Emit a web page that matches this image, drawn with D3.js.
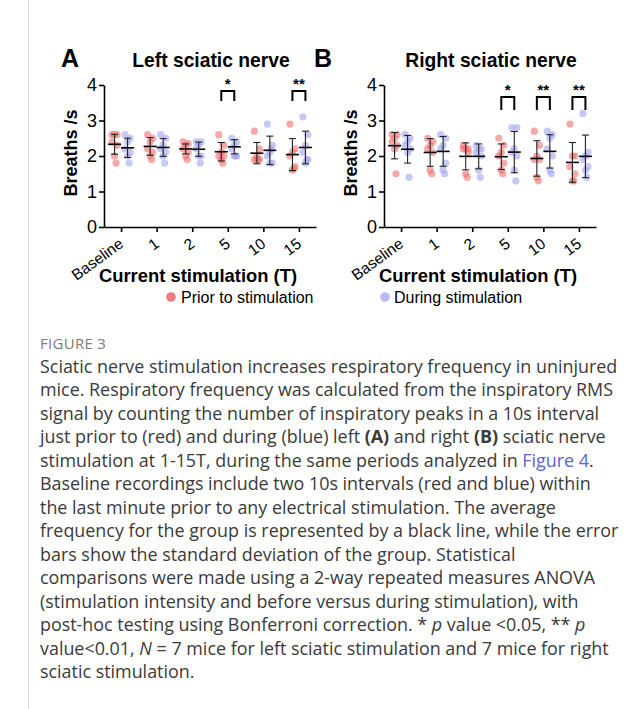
<!DOCTYPE html>
<html><head><meta charset="utf-8">
<script src="https://cdn.jsdelivr.net/npm/d3@7"></script>
<style>
body{margin:0;background:#fff;}
svg{display:block;}
</style></head>
<body>
<svg id="c" width="642" height="709"></svg>
<script>
const categories = ["Baseline","1","2","5","10","15"];
const yTicks = [0,1,2,3,4];

// Panel A: Left sciatic nerve (7 mice)
const leftPrior = [
  [2.6,2.6,2.6,2.4,2.3,2.0,1.8],
  [2.6,2.5,2.4,2.2,2.1,2.0,1.9],
  [2.4,2.35,2.3,2.2,2.1,2.0,1.9],
  [2.6,2.3,2.1,2.0,2.0,1.9,1.8],
  [2.7,2.2,2.0,1.9,1.9,1.9,1.9],
  [2.9,2.2,2.1,2.0,1.7,1.6,1.65]
];
const leftDuring = [
  [2.6,2.5,2.4,2.2,2.1,2.0,1.8],
  [2.6,2.5,2.3,2.2,2.1,2.0,1.8],
  [2.4,2.4,2.3,2.2,2.0,2.0,1.8],
  [2.5,2.4,2.3,2.2,2.0,2.0,2.0],
  [2.9,2.3,2.1,2.0,1.8,1.8,2.2],
  [3.1,2.6,2.3,2.1,1.9,1.8,1.9]
];
const leftPriorMean = [2.33,2.27,2.20,2.12,2.08,2.04];
const leftPriorSD   = [0.28,0.25,0.14,0.26,0.30,0.45];
const leftDuringMean = [2.23,2.24,2.19,2.26,2.16,2.24];
const leftDuringSD   = [0.27,0.25,0.20,0.20,0.40,0.46];
const leftSig = [{cat:"5",label:"*"},{cat:"15",label:"**"}];

// Panel B: Right sciatic nerve (7 mice)
const rightPrior = [
  [2.6,2.6,2.5,2.4,2.3,2.2,1.5],
  [2.5,2.4,2.3,2.2,2.1,1.6,1.5],
  [2.3,2.2,2.2,2.2,2.1,1.5,1.4],
  [2.5,2.3,2.1,2.0,1.8,1.6,1.5],
  [2.7,2.3,2.0,1.9,1.9,1.4,1.3],
  [2.9,2.0,2.0,1.7,1.5,1.3,1.3]
];
const rightDuring = [
  [2.6,2.5,2.4,2.3,2.2,2.1,1.4],
  [2.6,2.5,2.3,2.2,1.8,1.6,1.5],
  [2.3,2.2,2.2,2.1,2.0,1.6,1.4],
  [2.8,2.8,2.2,2.1,2.0,1.6,1.3],
  [2.7,2.6,2.5,2.2,2.0,1.6,1.5],
  [3.2,2.1,2.0,1.9,1.7,1.6,1.4]
];
const rightPriorMean = [2.29,2.10,1.99,1.98,1.93,1.82];
const rightPriorSD   = [0.37,0.39,0.38,0.36,0.50,0.56];
const rightDuringMean = [2.19,2.13,1.99,2.11,2.13,1.99];
const rightDuringSD   = [0.39,0.42,0.35,0.58,0.47,0.60];
const rightSig = [{cat:"5",label:"*"},{cat:"10",label:"**"},{cat:"15",label:"**"}];

const seriesNames = ["Prior to stimulation","During stimulation"];
const seriesColors = ["#f07070","#a3a3f2"];

const captionHead = "FIGURE 3";
const captionLines = [
  [["Sciatic nerve stimulation increases respiratory frequency in uninjured"]],
  [["mice. Respiratory frequency was calculated from the inspiratory RMS"]],
  [["signal by counting the number of inspiratory peaks in a 10s interval"]],
  [["just prior to (red) and during (blue) left "],["(A)","b"],[" and right "],["(B)","b"],[" sciatic nerve"]],
  [["stimulation at 1-15T, during the same periods analyzed in "],["Figure 4","l"],["."]],
  [["Baseline recordings include two 10s intervals (red and blue) within"]],
  [["the last minute prior to any electrical stimulation. The average"]],
  [["frequency for the group is represented by a black line, while the error"]],
  [["bars show the standard deviation of the group. Statistical"]],
  [["comparisons were made using a 2-way repeated measures ANOVA"]],
  [["(stimulation intensity and before versus during stimulation), with"]],
  [["post-hoc testing using Bonferroni correction. * "],["p","i"],[" value <0.05, ** "],["p","i"]],
  [["value<0.01, "],["N","i"],[" = 7 mice for left sciatic stimulation and 7 mice for right"]],
  [["sciatic stimulation."]]
];

const svg = d3.select("#c");
const FONT = "'Liberation Sans', Arial, sans-serif";

svg.append("line").attr("x1",28.5).attr("x2",28.5).attr("y1",0).attr("y2",709)
  .attr("stroke","#d6d6d6").attr("stroke-width",1);

function panel(ox, letter, letterX, title, titleX, prior, during, pM, pS, dM, dS, sig, sigTop, sigH) {
  const g = svg.append("g").attr("transform",`translate(${ox},0)`);
  const x = d3.scalePoint().domain(categories).range([0,212]).padding(0.48);
  const y = d3.scaleLinear().domain([0,4]).range([227,85]);
  const off = [-6.5, 6.5];

  const ya = g.append("g").call(d3.axisLeft(y).tickValues(yTicks).tickFormat(d3.format("d"))
    .tickSize(5).tickSizeOuter(0).tickPadding(2));
  ya.select(".domain").attr("stroke-width",1.6);
  ya.selectAll(".tick line").attr("stroke-width",1.6);
  ya.selectAll("text").attr("font-family",FONT).attr("font-size",18).attr("fill","#000");

  const xa = g.append("g").attr("transform","translate(0,227)")
    .call(d3.axisBottom(x).tickSize(5).tickSizeOuter(0));
  xa.select(".domain").attr("stroke-width",1.6);
  xa.selectAll(".tick line").attr("stroke-width",1.6);
  xa.selectAll("text").attr("font-family",FONT).attr("font-size",15.5).attr("fill","#000")
    .attr("text-anchor","end").attr("dy",0).attr("y",0)
    .attr("transform","translate(3,19) rotate(-36)");

  const groups = [prior, during];
  const jit = [-2.5, 2.5, 0, -2.5, 2.5, 0, 1.5];
  groups.forEach((arr, s) => {
    arr.forEach((vals, ci) => {
      g.selectAll(null).data(vals).enter().append("circle")
        .attr("cx",(d,i)=>x(categories[ci])+off[s]+jit[i])
        .attr("cy",d=>y(d)).attr("r",3.6)
        .attr("fill",seriesColors[s]).attr("fill-opacity",0.6);
    });
  });

  const stats = [[pM,pS],[dM,dS]];
  stats.forEach(([M,S], s) => {
    categories.forEach((c, ci) => {
      const cx = x(c)+off[s];
      const e = g.append("g").attr("stroke", "#222").attr("stroke-width",1.1);
      e.append("line").attr("x1",cx).attr("x2",cx).attr("y1",y(M[ci]-S[ci])).attr("y2",y(M[ci]+S[ci]));
      e.append("line").attr("x1",cx-3.5).attr("x2",cx+3.5).attr("y1",y(M[ci]-S[ci])).attr("y2",y(M[ci]-S[ci]));
      e.append("line").attr("x1",cx-3.5).attr("x2",cx+3.5).attr("y1",y(M[ci]+S[ci])).attr("y2",y(M[ci]+S[ci]));
      e.append("line").attr("x1",cx-6.5).attr("x2",cx+6.5).attr("y1",y(M[ci])).attr("y2",y(M[ci]))
        .attr("stroke","#000").attr("stroke-width",1.6);
    });
  });

  sig.forEach(sg => {
    const x1 = x(sg.cat)+off[0], x2 = x(sg.cat)+off[1];
    g.append("path").attr("d",`M${x1},${sigTop+sigH}V${sigTop}H${x2}V${sigTop+sigH}`)
      .attr("fill","none").attr("stroke","#000").attr("stroke-width",2);
    g.append("text").attr("x",(x1+x2)/2).attr("y",sigTop-2).attr("text-anchor","middle")
      .attr("font-family",FONT).attr("font-weight","bold").attr("font-size",15).text(sg.label);
  });

  svg.append("text").attr("x",letterX).attr("y",67).attr("font-family",FONT).attr("font-weight","bold")
    .attr("font-size",25).text(letter);
  svg.append("text").attr("x",titleX).attr("y",67).attr("text-anchor","middle").attr("font-family",FONT)
    .attr("font-weight","bold").attr("font-size",19.3).text(title);
  svg.append("text").attr("transform",`translate(${ox-27},153) rotate(-90)`).attr("text-anchor","middle")
    .attr("font-family",FONT).attr("font-weight","bold").attr("font-size",18).text("Breaths /s");
  svg.append("text").attr("x",ox+94).attr("y",282).attr("text-anchor","middle").attr("font-family",FONT)
    .attr("font-weight","bold").attr("font-size",18.4).text("Current stimulation (T)");
}

panel(104,"A",61,"Left sciatic nerve",211,leftPrior,leftDuring,leftPriorMean,leftPriorSD,leftDuringMean,leftDuringSD,leftSig,91,10);
panel(384,"B",314,"Right sciatic nerve",491,rightPrior,rightDuring,rightPriorMean,rightPriorSD,rightDuringMean,rightDuringSD,rightSig,97,13);

const legX = [171, 385];
seriesNames.forEach((n,i)=>{
  svg.append("circle").attr("cx",legX[i]).attr("cy",297).attr("r",4.8)
    .attr("fill",seriesColors[i]).attr("fill-opacity",i===0?0.9:0.75);
  svg.append("text").attr("x",legX[i]+(i===0?10:9)).attr("y",302.5).attr("font-family",FONT)
    .attr("font-size",16).attr("fill","#000").text(n);
});

const CF = "'Open Sans', 'Noto Sans', sans-serif";
svg.append("text").attr("x",40).attr("y",348.5).attr("font-family",CF).attr("font-size",15)
  .attr("fill","#7a7a7a").attr("letter-spacing",0.3).text(captionHead);
captionLines.forEach((line, li) => {
  const t = svg.append("text").attr("x",40).attr("y",372.5+li*23.5).attr("font-family",CF)
    .attr("font-size",17.9).attr("fill","#3a3a3a");
  line.forEach(([s,st]) => {
    const ts = t.append("tspan").text(s);
    if (st==="b") ts.attr("font-weight","bold");
    if (st==="i") ts.attr("font-style","italic");
    if (st==="l") ts.attr("fill","#5b63d6");
  });
});
</script>
</body></html>
